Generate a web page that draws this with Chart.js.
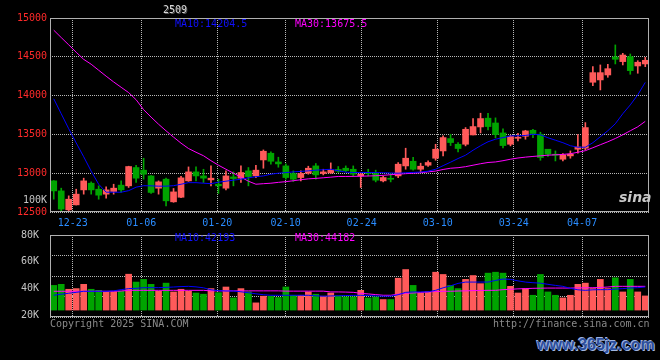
<!DOCTYPE html>
<html>
<head>
<meta charset="utf-8">
<script src="https://cdn.jsdelivr.net/npm/chart.js@4.4.1/dist/chart.umd.min.js"></script>
<style>
  body { margin: 0; background: #000; width: 660px; height: 360px; overflow: hidden; position: relative;
         font-family: "DejaVu Sans Mono", monospace; font-size: 10px; }
  .box { position: absolute; left: 0; width: 660px; }
  .t { position: absolute; white-space: pre; line-height: 10px; }
</style>
</head>
<body>
<div class="box" style="top:0;height:232px"><canvas id="kline"></canvas></div>
<div class="box" style="top:226px;height:100px"><canvas id="vol"></canvas></div>

<div class="t" style="left:163px;top:5px;color:#d8d8d8;text-shadow:1px 1px 0 #555">2509</div>
<div class="t" style="left:175px;top:19px;color:#1010ff">MA10:14204.5</div>
<div class="t" style="left:295px;top:19px;color:#ff00ff">MA30:13675.5</div>
<div class="t" style="left:23px;top:195px;color:#c4c4c4">100K</div>
<div class="t" style="left:175px;top:233px;color:#1010ff">MA10:42193</div>
<div class="t" style="left:295px;top:233px;color:#ff00ff">MA30:44182</div>
<div class="t" style="left:50px;top:319px;color:#8a8a8a">Copyright 2025 SINA.COM</div>
<div class="t" style="left:493px;top:319px;color:#8a8a8a">http://finance.sina.com.cn</div>
<div class="t" style="left:619px;top:190px;color:#c8c8c8;font:italic bold 14px 'DejaVu Sans';line-height:14px">sina</div>
<div class="t" style="left:537px;top:337px;color:#2d4f9e;font:bold 16px 'Liberation Sans';line-height:16px;text-shadow:1px 1px 0 #9fb4e0,-1px -1px 0 #9fb4e0">www.365jz.com</div>

<script>
// daily bars, oldest first
const opens = [12901,12772,12528,12592,12785,12871,12794,12730,12764,12846,
  12837,13073,13039,12965,12807,12923,12631,12690,12901,13017,
  12965,12914,12858,12807,12952,12936,13030,12965,13171,13257,
  13145,13094,12996,12944,13000,13094,12996,13004,13047,13064,
  13051,12965,13009,12996,12901,12935,12965,13094,13154,13051,
  13103,13193,13287,13446,13373,13373,13493,13596,13709,13647,
  13519,13373,13450,13476,13553,13502,13309,13245,13180,13223,
  13309,13322,14172,14202,14266,14498,14438,14502,14382,14408];
const highs = [12905,12807,12708,12794,12936,12888,12837,12824,12858,12901,
  13090,13103,13193,12970,12901,12936,12803,12960,13081,13081,
  13051,13094,12923,13030,13017,13094,13073,13103,13300,13274,
  13206,13120,13030,13030,13090,13125,13051,13133,13086,13094,
  13094,13009,13051,13039,12961,12996,13138,13322,13206,13129,
  13158,13373,13480,13502,13395,13588,13704,13773,13773,13713,
  13571,13489,13515,13553,13566,13528,13309,13287,13253,13287,
  13498,13652,14373,14395,14403,14653,14545,14536,14450,14493];
const lows = [12665,12507,12498,12590,12730,12730,12665,12678,12730,12755,
  12816,12880,12923,12740,12730,12579,12625,12685,12895,12901,
  12880,12837,12739,12785,12837,12880,12837,12944,13064,13116,
  13077,12923,12893,12901,12987,12923,12978,12996,13009,13021,
  12957,12816,12965,12888,12888,12888,12944,13051,13039,13009,
  13086,13167,13223,13356,13274,13352,13493,13519,13558,13455,
  13326,13352,13416,13438,13459,13167,13215,13158,13158,13193,
  13257,13300,14129,14073,14236,14408,14395,14275,14288,14373];
const closes = [12772,12537,12665,12730,12901,12785,12717,12785,12807,12785,
  13086,12936,12987,12752,12888,12644,12759,12940,13017,12965,
  12936,12936,12837,12965,12931,13009,12957,13039,13283,13154,
  13120,12944,12923,12996,13064,12978,13017,13043,13026,13034,
  12987,12987,12996,12910,12944,12922,13116,13193,13051,13090,
  13138,13309,13459,13395,13318,13566,13601,13704,13601,13498,
  13356,13476,13463,13545,13511,13202,13245,13232,13236,13245,
  13338,13588,14296,14296,14347,14468,14523,14322,14430,14455];
const ma10 = [13959,13766,13573,13390,13212,13026,12858,12755,12755,12755,
  12775,12820,12839,12837,12833,12833,12839,12858,12878,12878,
  12871,12865,12884,12897,12910,12923,12940,12955,12965,12987,
  13000,13008,13017,13023,13030,13039,13045,13051,13032,13013,
  13009,13009,13009,13009,13006,13003,13000,13006,13010,13015,
  13026,13051,13097,13142,13189,13232,13296,13354,13405,13438,
  13459,13480,13482,13486,13502,13495,13457,13425,13393,13354,
  13335,13335,13393,13470,13547,13637,13766,13880,14010,14170];
const ma30 = [14843,14748,14654,14559,14467,14404,14327,14250,14176,14107,
  14039,13947,13819,13723,13631,13546,13465,13387,13318,13270,
  13225,13161,13103,13051,13000,12949,12897,12858,12865,12871,
  12882,12891,12903,12916,12927,12933,12941,12949,12958,12958,
  12959,12961,12964,12967,12972,12981,12987,12994,13000,13006,
  13017,13027,13048,13064,13071,13084,13103,13122,13138,13145,
  13161,13180,13196,13207,13216,13224,13232,13237,13242,13251,
  13270,13290,13328,13367,13405,13447,13495,13547,13598,13668];

// volume in thousands
const vols = [42.2,43.0,39.3,39.8,43.0,39.3,38.5,37.3,37.3,37.8,
  50.6,44.7,46.7,43.0,37.8,43.9,37.3,39.3,37.8,36.5,
  35.6,39.8,36.8,41.0,32.8,39.8,37.3,29.1,34.1,34.1,
  33.1,41.0,34.8,34.8,37.3,35.6,34.1,36.5,34.3,33.6,
  33.6,38.5,32.8,33.6,31.6,31.6,47.6,54.1,42.2,36.5,
  37.3,52.1,50.4,42.2,39.8,46.7,49.6,43.5,51.4,52.1,
  51.4,41.5,36.5,39.8,34.8,50.4,37.3,34.8,32.8,34.8,
  43.0,43.9,39.8,46.7,39.8,47.9,37.3,46.7,37.3,34.3];
const volMa10 = [34.8,35.6,36.3,37.0,37.8,37.8,37.8,37.8,38.1,39.0,
  39.8,40.0,40.5,40.5,40.5,40.7,41.0,41.3,41.5,41.1,
  40.4,38.9,38.3,38.0,38.0,37.4,36.7,35.9,35.2,34.8,
  34.8,34.8,34.8,34.8,34.8,34.4,34.1,34.3,34.4,34.6,
  34.7,34.8,34.6,34.3,34.1,34.1,35.2,37.0,37.3,37.3,
  37.4,38.5,40.4,41.9,43.7,44.7,44.7,44.7,44.7,45.9,
  47.0,46.7,45.6,44.7,44.2,43.9,43.0,42.2,41.5,40.0,
  38.9,38.5,38.9,39.0,39.0,39.4,39.8,40.2,40.5,41.0];
const volMa30 = [37.8,37.8,37.8,37.8,37.8,37.8,37.8,37.8,37.8,38.0,
  38.5,38.5,38.5,38.5,38.5,38.5,38.5,38.5,38.5,38.5,
  38.5,38.1,38.1,38.1,38.1,38.1,38.1,38.1,38.1,38.1,
  38.1,37.9,37.9,37.9,37.9,37.9,37.9,37.3,37.3,37.2,
  37.0,36.3,35.8,35.3,34.8,34.8,35.6,36.3,36.5,36.9,
  37.3,37.6,37.8,37.8,38.0,38.1,38.3,38.4,38.5,38.5,
  39.0,39.3,39.6,39.8,40.0,40.1,40.2,40.2,40.2,40.2,
  40.3,40.4,40.5,40.6,41.0,41.5,41.5,41.5,41.5,41.5];

// date gridlines: trading-day slot and label
const dateSlots = [3, 12, 22, 31, 41, 51, 61, 70];
const dateLabels = ['12-23', '01-06', '01-20', '02-10', '02-24', '03-10', '03-24', '04-07'];
const volTicks = [80, 60, 40, 20];

const UP = '#ff5a5a', DOWN = '#00a400';
const GRID = '#b8b8b8';
const mono = { family: 'DejaVu Sans Mono', size: 10 };
const bars = opens.map((_, i) => i);
const colors = opens.map((o, i) => closes[i] >= o ? UP : DOWN);

const frame = {
  id: 'frame',
  afterDraw(chart) {
    const a = chart.chartArea, ctx = chart.ctx;
    ctx.save();
    ctx.strokeStyle = '#b0b0b0';
    ctx.lineWidth = 1;
    ctx.strokeRect(Math.round(a.left) + 0.5, Math.round(a.top) + 0.5,
      Math.round(a.right - a.left) - 1, Math.round(a.bottom - a.top) - 1);
    ctx.restore();
  }
};

// bar charts give every x axis offset:true by default, turn it off here
function dateAxis(showLabels) {
  return {
    type: 'linear', position: 'bottom', min: 0, max: 78.8, offset: false,
    afterBuildTicks: s => { s.ticks = dateSlots.map(v => ({ value: v })); },
    afterFit: s => { s.height = showLabels ? 20 : 0; },
    grid: { color: GRID, drawTicks: false, offset: false },
    border: { display: false, dash: [1, 1] },
    ticks: { display: showLabels, color: '#2a8cff', font: mono, padding: 5,
      maxRotation: 0, autoSkip: false, callback: (v, i) => dateLabels[i] }
  };
}

function line(data, color) {
  return { type: 'line', data: data, borderColor: color, borderWidth: 1,
    pointRadius: 0, tension: 0, fill: false };
}

const common = {
  responsive: true, maintainAspectRatio: false, animation: false,
  devicePixelRatio: 1,
  plugins: { legend: { display: false }, tooltip: { enabled: false } }
};

new Chart(document.getElementById('kline'), {
  type: 'bar',
  data: {
    labels: bars,
    datasets: [
      line(ma10, '#0000ff'),
      line(ma30, '#ff00ff'),
      { data: opens.map((o, i) => [o, closes[i]]), backgroundColor: colors,
        barThickness: 6, grouped: false, minBarLength: 1 },
      { data: lows.map((l, i) => [l, highs[i]]), backgroundColor: colors,
        barThickness: 1, grouped: false }
    ]
  },
  options: {
    ...common,
    layout: { padding: { left: 0, right: 11, top: 18, bottom: 0 } },
    scales: {
      x: { type: 'category', display: false, offset: true },
      xg: dateAxis(true),
      y: {
        min: 12500, max: 15000,
        afterFit: s => { s.width = 50; },
        ticks: { stepSize: 500, color: '#ff2a2a', font: mono, padding: 3, callback: v => String(v) },
        grid: { color: GRID, drawTicks: false },
        border: { display: false, dash: [1, 1] }
      }
    }
  },
  plugins: [frame]
});

new Chart(document.getElementById('vol'), {
  type: 'bar',
  data: {
    labels: bars,
    datasets: [
      line(volMa10, '#0000ff'),
      line(volMa30, '#ff00ff'),
      { data: vols, backgroundColor: colors, barThickness: 6, base: 23.7 }
    ]
  },
  options: {
    ...common,
    layout: { padding: { left: 0, right: 11, top: 8, bottom: 9 } },
    scales: {
      x: { type: 'category', display: false, offset: true },
      xg: dateAxis(false),
      y: {
        min: 18.5, max: 80,
        afterFit: s => { s.width = 50; },
        afterBuildTicks: s => { s.ticks = volTicks.map(v => ({ value: v })); },
        ticks: { color: '#c4c4c4', font: mono, padding: 3, callback: v => v + 'K' },
        grid: { display: false },
        border: { display: false }
      },
      yg: {
        position: 'right', min: 0, max: 4,
        afterFit: s => { s.width = 0; },
        ticks: { display: false, stepSize: 1 },
        grid: { color: GRID, drawTicks: false },
        border: { display: false, dash: [1, 1] }
      }
    }
  },
  plugins: [frame]
});
</script>
</body>
</html>
